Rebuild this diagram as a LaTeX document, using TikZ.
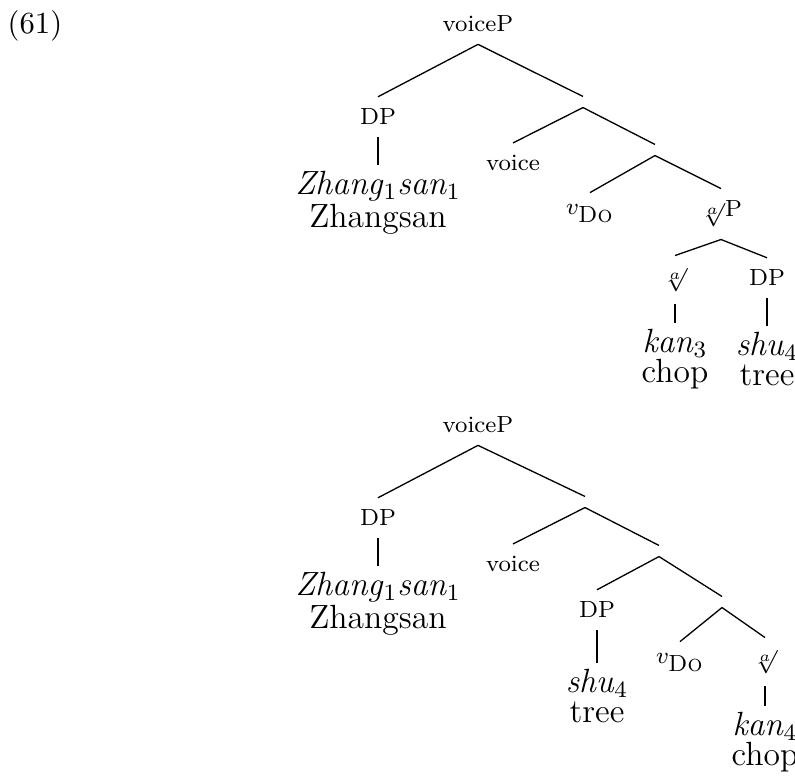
\documentclass[tikz,border=0pt]{standalone}
\usepackage{amsmath}
\usepackage{tikz}
\usetikzlibrary{positioning}
\tikzstyle{pixelGrid} = [x = .3425pt, y = -.3425pt]
\tikzstyle{treeLabel} = [font=\fontsize{8}{9.6}\selectfont, inner sep = 4pt]
\tikzstyle{leafText} = [font=\fontsize{11.5}{10.3}\selectfont, align=center, inner sep = 2pt]
\tikzstyle{emptyNode} = [inner sep = 0pt, minimum height = 3.4pt, minimum width = 0pt]
\tikzstyle{branchLine} = [color=black, line width = .45pt]
\tikzstyle{exampleNumber} = [font=\fontsize{10.5}{12}\selectfont]
\newcommand{\branch}[2]{\draw [branchLine] (#1.south) -- (#2.north);}
\newcommand{\rootSign}{$\sqrt[a]{}$}
\newcommand{\vDo}{$v_{\mbox{\textsc{Do}}}$}
\newcommand{\gloss}[2]{\textit{#1}$_{#2}$}

\begin{document}
\begin{tikzpicture}[pixelGrid]
          \useasboundingbox (0,0) rectangle (795,777);
          \node [exampleNumber] (exNum) at (35,26) {(61)};

          % first tree
          \node [treeLabel] (voicePA) at (478,24) {voiceP};
          \node [treeLabel] (dpA) at (378,117) {DP};
          \node [leafText] (zsA) at (378,203) {\gloss{Zhang}{1}\gloss{san}{1}\\Zhangsan};
          \node [emptyNode] (barA) at (583,102) {};
          \node [treeLabel] (voiceA) at (513,163) {voice};
          \node [emptyNode] (barAA) at (655,150) {};
          \node [treeLabel] (vDoA) at (590,214) {\vDo};
          \node [treeLabel] (rootPA) at (721,214) {\rootSign P};
          \node [treeLabel] (rootA) at (675,280) {\rootSign};
          \node [treeLabel] (dpAA) at (767,278) {DP};
          \node [leafText] (kanA) at (675,359) {\gloss{kan}{3}\\chop};
          \node [leafText] (shuA) at (767,359) {\gloss{shu}{4}\\tree};
          \foreach \parent/\child in {voicePA/dpA, voicePA/barA, dpA/zsA, barA/voiceA, barA/barAA,
            barAA/vDoA, barAA/rootPA, rootPA/rootA, rootPA/dpAA, rootA/kanA, dpAA/shuA} {
            \branch\parent\child
          }

          % second tree
          \node [treeLabel] (voicePB) at (478,425) {voiceP};
          \node [treeLabel] (dpB) at (378,518) {DP};
          \node [leafText] (zsB) at (378,604) {\gloss{Zhang}{1}\gloss{san}{1}\\Zhangsan};
          \node [emptyNode] (barB) at (585,502) {};
          \node [treeLabel] (voiceB) at (513,564) {voice};
          \node [emptyNode] (barBB) at (659,551) {};
          \node [treeLabel] (dpBB) at (597,610) {DP};
          \node [leafText] (shuB) at (597,696) {\gloss{shu}{4}\\tree};
          \node [emptyNode] (barBBB) at (722,602) {};
          \node [treeLabel] (vDoB) at (680,663) {\vDo};
          \node [treeLabel] (rootB) at (765,662) {\rootSign};
          \node [leafText] (kanB) at (765,742) {\gloss{kan}{4}\\chop};
          \foreach \parent/\child in {voicePB/dpB, voicePB/barB, dpB/zsB, barB/voiceB, barB/barBB,
            barBB/dpBB, barBB/barBBB, dpBB/shuB, barBBB/vDoB, barBBB/rootB, rootB/kanB} {
            \branch\parent\child
          }
        \end{tikzpicture}
\end{document}
